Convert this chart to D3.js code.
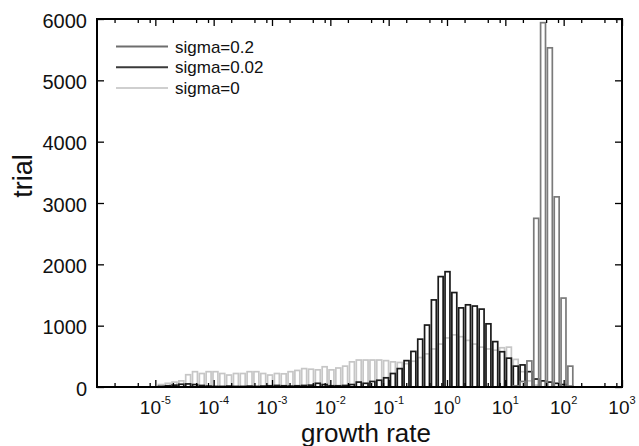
<!DOCTYPE html>
<html><head><meta charset="utf-8">
<script src="https://cdn.jsdelivr.net/npm/d3@7"></script>
<style>
body{margin:0;background:#fff}
svg{display:block}
text{font-family:"Liberation Sans",Arial,Helvetica,sans-serif;fill:#111}
</style>
</head><body>
<svg id="chart" width="639" height="446"></svg>
<script>
// ---- data ----
const seriesNames = ["sigma=0.2", "sigma=0.02", "sigma=0"];
const binStartLog10 = -5.9;   // log10 of left edge of bin 0
const binStepLog10 = 0.117;   // bin width in decades
// counts per bin, first value belongs to bin index given by *_First
const sigma02First = 60;
const sigma02 = [20, 90, 425, 2750, 5940, 5530, 3100, 1450, 340];
const sigma002First = 8;
const sigma002 = [10, 20, 30, 45, 50, 40, 25, 15, 10, 10, 15, 10, 10, 15, 10, 15, 20, 25, 20, 15,
  20, 25, 30, 60, 40, 20, 20, 25, 40, 80, 60, 90, 110, 150, 220, 300, 430, 580, 780, 1010,
  1420, 1800, 1880, 1540, 1290, 1340, 1320, 1270, 1030, 740, 575, 470, 340, 360, 250, 130, 100, 80, 60, 40, 10];
const sigma0First = 8;
const sigma0 = [40, 60, 80, 100, 200, 250, 220, 250, 250, 220, 195, 220, 220, 250, 250, 220, 195, 220,
  215, 250, 270, 300, 290, 280, 330, 280, 310, 340, 410, 440, 440, 440, 440, 430, 410, 400,
  380, 420, 480, 540, 620, 700, 800, 850, 820, 760, 700, 650, 620, 600, 640, 650, 450, 250, 100, 30];
const yTicks = [0, 1000, 2000, 3000, 4000, 5000, 6000];
const xTickExps = [-5, -4, -3, -2, -1, 0, 1, 2, 3];
const xLabel = "growth rate", yLabel = "trial";

// ---- layout ----
const svg = d3.select("#chart");
const L = 97, R = 622, T = 19, B = 387;
const x = d3.scaleLog().domain([1e-6, 1e3]).range([L, R]);
const y = d3.scaleLinear().domain([0, 6000]).range([B, T]);

const colors = {"sigma=0.2": "#7a7a7a", "sigma=0.02": "#1a1a1a", "sigma=0": "#c6c6c6"};
const legendColors = {"sigma=0.2": "#6e6e6e", "sigma=0.02": "#3a3a3a", "sigma=0": "#cfcfcf"};

function binPx(k) {
  const x0 = x(Math.pow(10, binStartLog10 + k * binStepLog10));
  const x1 = x(Math.pow(10, binStartLog10 + (k + 1) * binStepLog10));
  return [x0, x1];
}
function drawSeries(name, first, vals) {
  const data = vals.map((v, i) => ({k: first + i, v})).filter(d => d.v > 0);
  svg.append("g").selectAll("rect").data(data).join("rect")
    .attr("x", d => { const [a, b] = binPx(d.k); return a + (b - a) * 0.14; })
    .attr("width", d => { const [a, b] = binPx(d.k); return (b - a) * 0.72; })
    .attr("y", d => y(d.v))
    .attr("height", d => y(0) - y(d.v))
    .attr("fill", "none")
    .attr("stroke", colors[name])
    .attr("stroke-width", 1.7);
}
drawSeries("sigma=0", sigma0First, sigma0);
drawSeries("sigma=0.02", sigma002First, sigma002);
drawSeries("sigma=0.2", sigma02First, sigma02);

// ---- axes ----
const majors = xTickExps.map(e => Math.pow(10, e));
const minors = [];
for (let e = -6; e < 3; e++) [2, 5, 8].forEach(m => minors.push(m * Math.pow(10, e)));

function styleAxis(g) { g.select(".domain").remove(); g.selectAll("line").attr("stroke", "#000").attr("stroke-width", 1.3); }

svg.append("g").attr("transform", `translate(0,${B})`)
  .call(d3.axisBottom(x).tickValues(majors).tickSize(-7).tickFormat("")).call(styleAxis);
svg.append("g").attr("transform", `translate(0,${B})`)
  .call(d3.axisBottom(x).tickValues(minors).tickSize(-4).tickFormat("")).call(styleAxis);
svg.append("g").attr("transform", `translate(0,${T})`)
  .call(d3.axisTop(x).tickValues(majors).tickSize(-7).tickFormat("")).call(styleAxis);
svg.append("g").attr("transform", `translate(0,${T})`)
  .call(d3.axisTop(x).tickValues(minors).tickSize(-4).tickFormat("")).call(styleAxis);

const yl = svg.append("g").attr("transform", `translate(${L},0)`)
  .call(d3.axisLeft(y).tickValues(yTicks).tickSize(-7).tickPadding(10).tickFormat(d3.format("d")));
yl.select(".domain").remove();
yl.selectAll("line").attr("stroke", "#000").attr("stroke-width", 1.3);
yl.selectAll("text").attr("font-size", 20).attr("dy", "0.4em")
  .style("font-family", '"Liberation Sans",Arial,sans-serif').attr("fill", "#111");

svg.append("g").attr("transform", `translate(${R},0)`)
  .call(d3.axisRight(y).tickValues(yTicks).tickSize(-7).tickFormat("")).call(styleAxis);

// frame
svg.append("rect").attr("x", L).attr("y", T).attr("width", R - L).attr("height", B - T)
  .attr("fill", "none").attr("stroke", "#000").attr("stroke-width", 2);

// x tick labels with superscripts
const xt = svg.append("g");
xTickExps.forEach(e => {
  const t = xt.append("text").attr("x", x(Math.pow(10, e))).attr("y", 414)
    .attr("text-anchor", "middle").attr("font-size", 19);
  t.append("tspan").text("10");
  t.append("tspan").attr("font-size", 11).attr("dy", -10).text(String(e));
});

// axis labels
svg.append("text").attr("x", 366).attr("y", 441.5).attr("text-anchor", "middle")
  .attr("font-size", 26).text(xLabel);
svg.append("text").attr("transform", `translate(32,176) rotate(-90)`)
  .attr("text-anchor", "middle").attr("font-size", 27).text(yLabel);

// legend
const lg = svg.append("g");
seriesNames.forEach((n, i) => {
  const yy = 46.5 + i * 20.8;
  lg.append("line").attr("x1", 116).attr("x2", 168).attr("y1", yy).attr("y2", yy)
    .attr("stroke", legendColors[n]).attr("stroke-width", 2);
  lg.append("text").attr("x", 175).attr("y", yy + 6).attr("font-size", 17).text(n);
});
</script>
</body></html>
